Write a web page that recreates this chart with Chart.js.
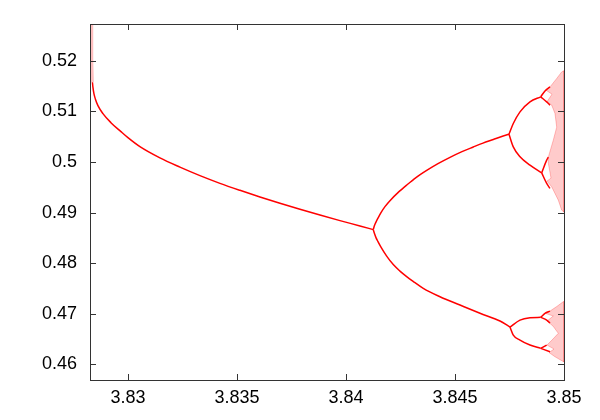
<!DOCTYPE html>
<html>
<head>
<meta charset="utf-8">
<script src="https://cdn.jsdelivr.net/npm/chart.js@4/dist/chart.umd.min.js"></script>
<style>
  html, body { margin: 0; padding: 0; background: #fff; }
  #wrap { width: 600px; height: 420px; }
</style>
</head>
<body>
<div id="wrap"><canvas id="c" width="600" height="420"></canvas></div>
<script>
// ---- axis ticks ----
const xTicks = [3.83, 3.835, 3.84, 3.845, 3.85];
const xTickLabels = ["3.83", "3.835", "3.84", "3.845", "3.85"];
const yTicks = [0.46, 0.47, 0.48, 0.49, 0.50, 0.51, 0.52];
const yTickLabels = ["0.46", "0.47", "0.48", "0.49", "0.5", "0.51", "0.52"];

// ---- period-3 stable branch ----
const mainR = [3.828372, 3.828394, 3.828440, 3.828509, 3.828624, 3.828853, 3.829220, 3.829679, 3.830000, 3.830550, 3.831468, 3.832385, 3.833303, 3.834220, 3.835138, 3.836055, 3.836972, 3.837890, 3.838807, 3.839725, 3.840642, 3.841252];
const mainX = [0.51579, 0.51480, 0.51352, 0.51243, 0.51115, 0.50957, 0.50779, 0.50601, 0.50482, 0.50304, 0.50081, 0.49899, 0.49731, 0.49579, 0.49441, 0.49310, 0.49186, 0.49067, 0.48953, 0.48842, 0.48737, 0.48664];

// transient scatter at the left edge
const edgeR = [3.82832, 3.82834, 3.82837];
const edgeX = [0.5273, 0.5200, 0.5158];

// ---- period-6 branches ----
const upR = [3.841252, 3.841307, 3.841376, 3.841468, 3.841606, 3.841789, 3.842018, 3.842385, 3.842784, 3.843211, 3.843702, 3.844220, 3.844771, 3.845321, 3.845840, 3.846284, 3.846757, 3.847110, 3.847477];
const upX = [0.48664, 0.48743, 0.48812, 0.48891, 0.49000, 0.49119, 0.49237, 0.49395, 0.49544, 0.49692, 0.49834, 0.49968, 0.50093, 0.50206, 0.50298, 0.50374, 0.50447, 0.50502, 0.50551];
const loR = [3.841252, 3.841307, 3.841376, 3.841468, 3.841606, 3.841867, 3.842170, 3.842477, 3.842784, 3.843165, 3.843546, 3.844312, 3.845229, 3.846147, 3.847064, 3.847523];
const loX = [0.48664, 0.48585, 0.48506, 0.48427, 0.48318, 0.48140, 0.47972, 0.47844, 0.47735, 0.47617, 0.47502, 0.47336, 0.47172, 0.47010, 0.46856, 0.46737];

// ---- period-12 branches ----
const uaR = [3.847477, 3.847674, 3.847982, 3.848440, 3.848931];
const uaX = [0.50551, 0.50763, 0.50992, 0.51190, 0.51289];
const ubR = [3.847477, 3.847674, 3.847982, 3.848440, 3.848977];
const ubX = [0.50551, 0.50300, 0.50103, 0.49939, 0.49787];
const laR = [3.847523, 3.847982, 3.848440, 3.848931];
const laX = [0.46737, 0.46875, 0.46921, 0.46929];
const lbR = [3.847523, 3.847674, 3.847982, 3.848440, 3.848931];
const lbX = [0.46737, 0.46579, 0.46480, 0.46381, 0.46316];

// ---- period-24 stubs ----
const ua1R = [3.848931, 3.849128, 3.849358]; const ua1X = [0.51289, 0.51407, 0.51486];
const ua2R = [3.848931, 3.849206, 3.849358]; const ua2X = [0.51289, 0.51190, 0.51125];
const ub1R = [3.848977, 3.849206, 3.849280]; const ub1X = [0.49787, 0.50038, 0.50097];
const ub2R = [3.848977, 3.849206, 3.849358]; const ub2X = [0.49787, 0.49577, 0.49478];
const la1R = [3.848931, 3.849128, 3.849358]; const la1X = [0.46929, 0.47008, 0.47053];
const la2R = [3.848931, 3.849206, 3.849358]; const la2X = [0.46929, 0.46875, 0.46816];
const lb1R = [3.848931, 3.849206]; const lb1X = [0.46316, 0.46381];
const lb2R = [3.848931, 3.849358]; const lb2X = [0.46316, 0.46249];

// ---- chaotic band outlines ----
const chaosUpR = [3.849174, 3.849358, 3.849665, 3.849894, 3.85, 3.85, 3.849894, 3.849739, 3.849436, 3.849220, 3.849404, 3.849280, 3.849280, 3.849509, 3.849665, 3.849587, 3.849436, 3.849220, 3.849449, 3.849174];
const chaosUpX = [0.51421, 0.51486, 0.51652, 0.51783, 0.51806, 0.49010, 0.49049, 0.49247, 0.49510, 0.49623, 0.49682, 0.49978, 0.50097, 0.50433, 0.50690, 0.50960, 0.51125, 0.51194, 0.51342, 0.51421];
const chaosLoR = [3.849174, 3.849358, 3.849665, 3.849977, 3.85, 3.85, 3.849587, 3.849312, 3.849541, 3.849220, 3.849449, 3.849739, 3.849495, 3.849220, 3.849509, 3.849174];
const chaosLoX = [0.47004, 0.47053, 0.47142, 0.47241, 0.47241, 0.46046, 0.46150, 0.46233, 0.46302, 0.46381, 0.46480, 0.46613, 0.46757, 0.46856, 0.46955, 0.47004];

const RED = '#ff0000';
const pts = (rs, xs) => rs.map((r, i) => ({ x: r, y: xs[i] }));

function branch(rs, xs) {
  return { data: pts(rs, xs), showLine: true, borderColor: RED, borderWidth: 1.5,
           pointRadius: 0, cubicInterpolationMode: 'monotone', fill: false, order: 0 };
}
function band(rs, xs) {
  return { data: pts(rs, xs), showLine: true, borderColor: 'rgba(255,0,0,0.30)', borderWidth: 0.8,
           backgroundColor: 'rgba(255,70,70,0.28)', pointRadius: 0, tension: 0, fill: 'shape', order: 2 };
}

const datasets = [
  branch(mainR, mainX),
  branch(upR, upX), branch(loR, loX),
  branch(uaR, uaX), branch(ubR, ubX), branch(laR, laX), branch(lbR, lbX),
  branch(ua1R, ua1X), branch(ua2R, ua2X), branch(ub1R, ub1X), branch(ub2R, ub2X),
  branch(la1R, la1X), branch(la2R, la2X), branch(lb1R, lb1X), branch(lb2R, lb2X),
  { data: pts(edgeR, edgeX), showLine: true, borderColor: 'rgba(255,0,0,0.25)', borderWidth: 3,
    pointRadius: 0, fill: false, order: 1 },
  band(chaosUpR, chaosUpX), band(chaosLoR, chaosLoX)
];

const frameTicks = {
  id: 'frameTicks',
  afterDraw(chart) {
    const { ctx, chartArea: a, scales } = chart;
    ctx.save();
    ctx.strokeStyle = '#333';
    ctx.lineWidth = 1;
    ctx.beginPath();
    xTicks.forEach(v => {
      const px = Math.round(scales.x.getPixelForValue(v)) + 0.5;
      ctx.moveTo(px, a.bottom); ctx.lineTo(px, a.bottom - 6);
      ctx.moveTo(px, a.top); ctx.lineTo(px, a.top + 6);
    });
    yTicks.forEach(v => {
      const py = Math.round(scales.y.getPixelForValue(v)) + 0.5;
      ctx.moveTo(a.left, py); ctx.lineTo(a.left + 6, py);
      ctx.moveTo(a.right, py); ctx.lineTo(a.right - 6, py);
    });
    ctx.stroke();
    ctx.strokeRect(Math.round(a.left) + 0.5, Math.round(a.top) + 0.5,
                   Math.round(a.right - a.left), Math.round(a.bottom - a.top));
    ctx.restore();
  }
};

const tickFont = { family: "'Liberation Sans', Arial, sans-serif", size: 18 };

new Chart(document.getElementById('c'), {
  type: 'scatter',
  data: { datasets },
  options: {
    responsive: false,
    animation: false,
    devicePixelRatio: 1,
    layout: { padding: { left: 0, right: 36, top: 24, bottom: 0 } },
    plugins: { legend: { display: false }, tooltip: { enabled: false } },
    scales: {
      x: {
        type: 'linear', min: 3.82826, max: 3.85,
        afterBuildTicks: s => { s.ticks = xTicks.map(v => ({ value: v })); },
        afterFit: s => { s.height = 40; },
        ticks: { color: '#000', font: tickFont, padding: 7, maxRotation: 0,
                 callback: (v) => { const i = xTicks.findIndex(t => Math.abs(t - v) < 1e-7); return i >= 0 ? xTickLabels[i] : ''; } },
        grid: { display: false, drawTicks: false },
        border: { display: false }
      },
      y: {
        type: 'linear', min: 0.4569, max: 0.5273,
        afterBuildTicks: s => { s.ticks = yTicks.map(v => ({ value: v })); },
        afterFit: s => { s.width = 90; },
        ticks: { color: '#000', font: tickFont, padding: 13,
                 callback: (v) => { const i = yTicks.findIndex(t => Math.abs(t - v) < 1e-7); return i >= 0 ? yTickLabels[i] : ''; } },
        grid: { display: false, drawTicks: false },
        border: { display: false }
      }
    }
  },
  plugins: [frameTicks]
});
</script>
</body>
</html>
